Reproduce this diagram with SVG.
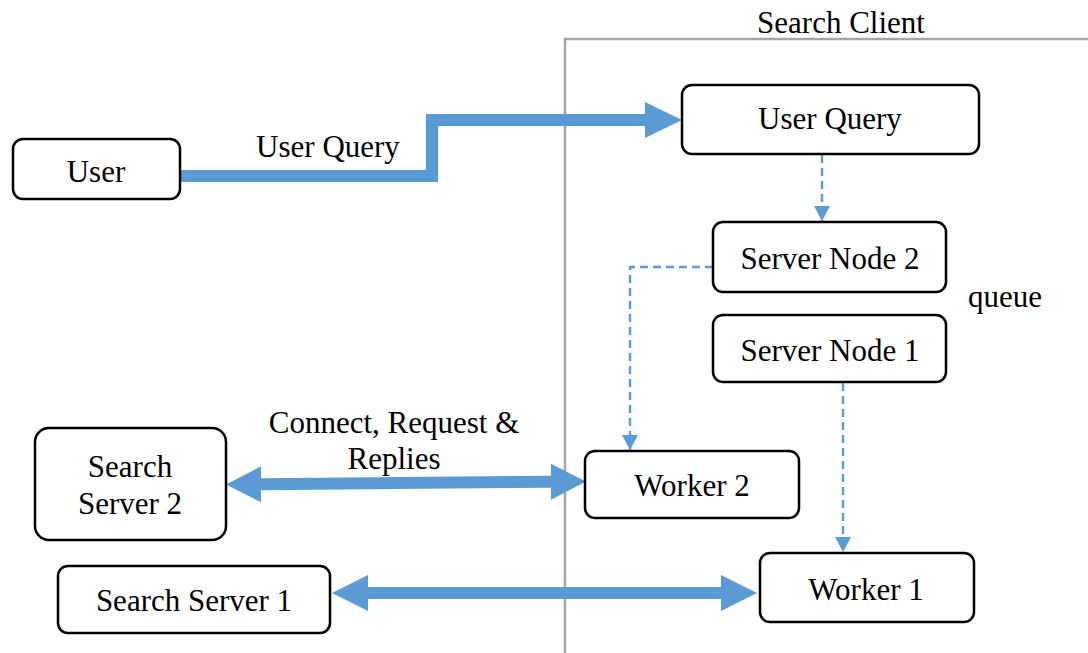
<svg xmlns="http://www.w3.org/2000/svg" width="1088" height="653" viewBox="0 0 1088 653">
<defs>
<style>
.box{fill:#fff;stroke:#000;stroke-width:2.5}
.t{font-family:"Liberation Serif","Times New Roman",serif;font-size:31px;fill:#000;text-anchor:middle}
.thick{fill:none;stroke:#5B9BD5;stroke-width:12}
.head{fill:#5B9BD5}
.dash{fill:none;stroke:#5B9BD5;stroke-width:2.4;stroke-dasharray:8 5}
</style>
<marker id="dh" markerWidth="16" markerHeight="16" refX="15" refY="8" orient="auto" markerUnits="userSpaceOnUse" viewBox="0 0 16 16">
<path d="M0,0 L15,8 L0,16 Z" fill="#5B9BD5"/>
</marker>
</defs>
<rect width="1088" height="653" fill="#fff"/>
<g id="search-client">
<path d="M565,653 L565,39 L1088,39" fill="none" stroke="#A6A6A6" stroke-width="2.5"/>
<text class="t" x="841" y="33">Search Client</text>
</g>
<g id="connectors">
<path class="thick" d="M180,176 L432,176 L432,120 L646,120"/>
<path class="head" d="M682,120 L645,102 L645,138 Z"/>
<path class="thick" d="M261,484.3 L551,481.7"/>
<path class="head" d="M226,484.6 L261,466.3 L261,502.3 Z"/>
<path class="head" d="M586,481.4 L551,463.7 L551,499.7 Z"/>
<path class="thick" d="M368,593 L721,593"/>
<path class="head" d="M332,593 L368,575 L368,611 Z"/>
<path class="head" d="M757,593 L721,575 L721,611 Z"/>
<path class="dash" d="M822,155 L822,221" marker-end="url(#dh)"/>
<path class="dash" d="M713,267 L630,267 L630,450" marker-end="url(#dh)"/>
<path class="dash" d="M843,383 L843,552" marker-end="url(#dh)"/>
<text class="t" x="328" y="157">User Query</text>
<text class="t" x="394" y="433">Connect, Request &amp;</text>
<text class="t" x="394" y="469">Replies</text>
</g>
<g id="user"><rect class="box" x="13" y="139" width="167" height="60" rx="10"/><text class="t" x="96" y="182">User</text></g>
<g id="user-query"><rect class="box" x="682" y="85" width="297" height="69" rx="10"/><text class="t" x="830" y="129">User Query</text></g>
<g id="server-node-2"><rect class="box" x="713" y="222" width="233" height="70" rx="10"/><text class="t" x="830" y="269">Server Node 2</text></g>
<g id="queue"><text class="t" x="1005" y="307">queue</text></g>
<g id="server-node-1"><rect class="box" x="713" y="315" width="233" height="67" rx="10"/><text class="t" x="830" y="361">Server Node 1</text></g>
<g id="worker-2"><rect class="box" x="585" y="451" width="214" height="67" rx="10"/><text class="t" x="692" y="496">Worker 2</text></g>
<g id="worker-1"><rect class="box" x="760" y="553" width="214" height="69" rx="10"/><text class="t" x="866" y="600">Worker 1</text></g>
<g id="search-server-2"><rect class="box" x="35" y="428" width="191" height="112" rx="14"/><text class="t" x="130" y="477">Search</text><text class="t" x="130" y="514">Server 2</text></g>
<g id="search-server-1"><rect class="box" x="58" y="566" width="272" height="67" rx="10"/><text class="t" x="194" y="611">Search Server 1</text></g>
</svg>
